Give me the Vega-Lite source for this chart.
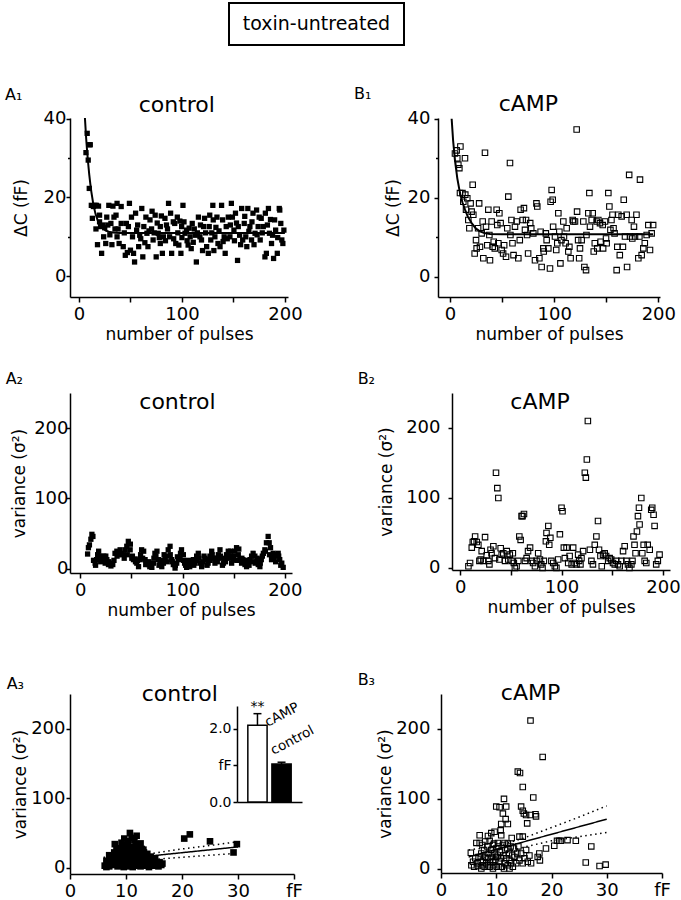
{
"$schema":"https://vega.github.io/schema/vega-lite/v6.json",
"background":"white",
"padding":{"left":5,"top":2,"right":0,"bottom":0},
"config":{
 "font":"DejaVu Sans",
 "view":{"stroke":null},
 "axis":{"domainColor":"black","domainWidth":1.5,"tickColor":"black","tickWidth":1.5,"labelColor":"black","titleColor":"black","grid":false,"labelFontSize":18,"titleFontSize":17,"titleFontWeight":"normal","labelOverlap":false,"labelFlush":false},
 "title":{"fontSize":16,"fontWeight":"normal","anchor":"start","frame":"bounds","color":"black","offset":4},
 "point":{"shape":"square","color":"black","opacity":1},
 "text":{"color":"black"}
},
"datasets":{
 "a1":[{"x":6.8,"y":31.4},{"x":8,"y":36.3},{"x":10,"y":33.4},{"x":11,"y":33.4},{"x":9,"y":29.5},{"x":10,"y":22.3},{"x":12,"y":18},{"x":13,"y":14.7},{"x":15.5,"y":18},{"x":17,"y":18},{"x":16.5,"y":12},{"x":18,"y":8},{"x":20,"y":13.8},{"x":22,"y":5.8},{"x":20,"y":15.5},{"x":23,"y":13},{"x":24,"y":10},{"x":26,"y":8.3},{"x":27,"y":15},{"x":29,"y":18},{"x":31,"y":13.4},{"x":33,"y":17.8},{"x":34,"y":15},{"x":35,"y":12},{"x":37,"y":18.5},{"x":37,"y":10},{"x":39,"y":8.3},{"x":41,"y":17.7},{"x":41,"y":13.4},{"x":43,"y":7.5},{"x":45,"y":5.3},{"x":46,"y":13.4},{"x":48,"y":12.6},{"x":49,"y":18.5},{"x":50,"y":6.6},{"x":51,"y":15},{"x":53,"y":5.8},{"x":54,"y":3.6},{"x":56,"y":11.7},{"x":58,"y":7.5},{"x":59,"y":10.4},{"x":61,"y":17.2},{"x":62,"y":4.9},{"x":63,"y":12.6},{"x":65,"y":15},{"x":66,"y":10.9},{"x":67,"y":7.5},{"x":69,"y":14.3},{"x":70.5,"y":12},{"x":72,"y":9.2},{"x":74,"y":15.5},{"x":75,"y":4.9},{"x":77,"y":10.9},{"x":79,"y":12.6},{"x":79,"y":8.3},{"x":81,"y":5.8},{"x":82,"y":10},{"x":83.5,"y":14.7},{"x":85,"y":13},{"x":87,"y":18.5},{"x":88,"y":10},{"x":90,"y":5.8},{"x":91.6,"y":13.8},{"x":93,"y":13.4},{"x":94,"y":8.3},{"x":95.5,"y":15},{"x":97,"y":7.9},{"x":99,"y":5.8},{"x":99.7,"y":12.6},{"x":101,"y":18},{"x":103,"y":10.9},{"x":104.5,"y":11.7},{"x":106,"y":7.9},{"x":108,"y":10},{"x":109,"y":7},{"x":110,"y":13.4},{"x":113,"y":10.4},{"x":114,"y":3.6},{"x":116,"y":15},{"x":117.5,"y":10},{"x":119,"y":9.2},{"x":121,"y":12.6},{"x":122,"y":14.7},{"x":124,"y":7.5},{"x":125.6,"y":5.8},{"x":126.5,"y":12.6},{"x":128,"y":9.2},{"x":130,"y":18},{"x":130.4,"y":14.3},{"x":132,"y":10},{"x":134,"y":15},{"x":135,"y":8.3},{"x":137,"y":7.5},{"x":138.5,"y":18},{"x":139.5,"y":14.3},{"x":141,"y":10},{"x":142,"y":5.8},{"x":143,"y":12.6},{"x":145,"y":15},{"x":146.6,"y":10},{"x":148,"y":18.5},{"x":149,"y":15},{"x":150.5,"y":11.7},{"x":152,"y":16},{"x":154,"y":4},{"x":154.7,"y":12.6},{"x":156,"y":10.4},{"x":158,"y":17.2},{"x":159,"y":9.2},{"x":160.5,"y":13.4},{"x":162,"y":10},{"x":163,"y":7.5},{"x":164,"y":17.2},{"x":166,"y":12.6},{"x":167.6,"y":9.2},{"x":169,"y":16},{"x":171,"y":10.9},{"x":172.5,"y":16.8},{"x":174,"y":12.6},{"x":176,"y":9.2},{"x":177,"y":14.7},{"x":179,"y":12.6},{"x":180.6,"y":4.9},{"x":182,"y":5.8},{"x":184,"y":17.2},{"x":185,"y":10.9},{"x":187,"y":8.3},{"x":189,"y":4.5},{"x":190,"y":14.3},{"x":191,"y":11.7},{"x":192.6,"y":5.8},{"x":194.5,"y":17.2},{"x":196,"y":13.4},{"x":197,"y":9.2},{"x":198,"y":8.3},{"x":199,"y":11.7},{"x":14,"y":17.7},{"x":19,"y":17.8},{"x":21,"y":12.6},{"x":25,"y":12.3},{"x":28,"y":13},{"x":30,"y":10.5},{"x":32,"y":8},{"x":36,"y":15.5},{"x":38,"y":12},{"x":44,"y":11},{"x":47,"y":6},{"x":52,"y":10},{"x":55,"y":16},{"x":57,"y":13},{"x":60,"y":9.5},{"x":64,"y":8.5},{"x":68,"y":11.5},{"x":71,"y":16.5},{"x":73,"y":11},{"x":76,"y":13.5},{"x":78,"y":9.8},{"x":80,"y":15.3},{"x":84,"y":9},{"x":86,"y":12},{"x":89,"y":16},{"x":92,"y":9.5},{"x":96,"y":11},{"x":98,"y":14},{"x":100,"y":9.8},{"x":102,"y":13.8},{"x":105,"y":9},{"x":107,"y":12.2},{"x":111,"y":8.6},{"x":112,"y":12},{"x":115,"y":11},{"x":118,"y":13},{"x":120,"y":6.5},{"x":123,"y":11},{"x":127,"y":15.5},{"x":129,"y":11},{"x":131,"y":6.5},{"x":133,"y":12.4},{"x":136,"y":11.5},{"x":140,"y":8.8},{"x":144,"y":9.5},{"x":147,"y":13},{"x":151,"y":9},{"x":153,"y":13.5},{"x":157,"y":8},{"x":161,"y":15.2},{"x":165,"y":11.4},{"x":168,"y":13.8},{"x":170,"y":8},{"x":173,"y":10.5},{"x":175,"y":15},{"x":178,"y":11},{"x":181,"y":16},{"x":183,"y":13},{"x":186,"y":14.4},{"x":188,"y":10.4},{"x":193,"y":9.8},{"x":195,"y":16.8}],
 "a1fit":[{"x":5.8,"y":40.2},{"x":7,"y":35},{"x":8,"y":31.5},{"x":9,"y":28.5},{"x":10,"y":25.8},{"x":11,"y":23.5},{"x":12,"y":21.5},{"x":14,"y":18.2},{"x":16,"y":15.9},{"x":18,"y":14.3},{"x":20,"y":13.2},{"x":23,"y":12.2},{"x":26,"y":11.6},{"x":30,"y":11.2},{"x":35,"y":11.05},{"x":40,"y":11},{"x":60,"y":11},{"x":100,"y":11},{"x":150,"y":11},{"x":200,"y":11}],
 "b1":[{"x":4.8,"y":31.2},{"x":6.4,"y":32},{"x":7,"y":30},{"x":8,"y":28.4},{"x":9,"y":27.5},{"x":10,"y":33},{"x":9.6,"y":21.2},{"x":12,"y":21.2},{"x":12.8,"y":19},{"x":14.4,"y":30},{"x":14.7,"y":20.8},{"x":15.4,"y":17},{"x":16.6,"y":19.9},{"x":17.6,"y":14.4},{"x":18.6,"y":12.3},{"x":19.8,"y":18.6},{"x":20.8,"y":16.5},{"x":21.8,"y":23.3},{"x":22.4,"y":15.7},{"x":23.7,"y":5.9},{"x":25,"y":9.3},{"x":25.6,"y":7.2},{"x":27,"y":12.3},{"x":28,"y":18.6},{"x":28.8,"y":7.6},{"x":30.4,"y":11},{"x":31.4,"y":14},{"x":32,"y":4.7},{"x":33.6,"y":31.4},{"x":34.6,"y":12.7},{"x":35.8,"y":8},{"x":36.8,"y":17},{"x":37.8,"y":10.6},{"x":38.4,"y":4.2},{"x":40,"y":14},{"x":41,"y":7.6},{"x":42,"y":8.9},{"x":43,"y":7.2},{"x":44.8,"y":17},{"x":45.4,"y":13.1},{"x":46.4,"y":8.5},{"x":47.4,"y":16.1},{"x":48.6,"y":13.6},{"x":49.6,"y":6.8},{"x":51,"y":5.9},{"x":52,"y":8},{"x":53.8,"y":5.1},{"x":55,"y":12.3},{"x":56,"y":20.3},{"x":57.6,"y":28.8},{"x":58,"y":10.6},{"x":59,"y":14.4},{"x":60,"y":8.5},{"x":61,"y":5.5},{"x":62.4,"y":12.7},{"x":64,"y":14},{"x":65.6,"y":4.7},{"x":67,"y":9.3},{"x":67.8,"y":17},{"x":69.8,"y":14.4},{"x":71,"y":17.4},{"x":72,"y":11.9},{"x":73,"y":14.4},{"x":74,"y":10.6},{"x":75,"y":5.9},{"x":77,"y":13.6},{"x":78,"y":12.3},{"x":80,"y":11},{"x":81.6,"y":4.2},{"x":83,"y":18.6},{"x":83.8,"y":17.8},{"x":85.8,"y":4.7},{"x":87,"y":11.4},{"x":88,"y":2.5},{"x":89.6,"y":7.2},{"x":90,"y":6.4},{"x":92,"y":11},{"x":92.8,"y":9.3},{"x":94.4,"y":7.2},{"x":96,"y":2.1},{"x":96.6,"y":19},{"x":97.6,"y":22},{"x":98.6,"y":19.5},{"x":99,"y":12.7},{"x":100.8,"y":10.2},{"x":102,"y":6.8},{"x":103,"y":8.5},{"x":104,"y":16.1},{"x":105,"y":11.4},{"x":106,"y":3.4},{"x":107,"y":9.3},{"x":108.8,"y":14},{"x":109.4,"y":10.2},{"x":111,"y":8.5},{"x":112,"y":12.3},{"x":113.6,"y":6.4},{"x":114.6,"y":7.6},{"x":115.8,"y":4.7},{"x":117.8,"y":14.4},{"x":118.4,"y":14},{"x":120,"y":14},{"x":121.6,"y":37.3},{"x":122,"y":16.5},{"x":123,"y":9.3},{"x":124,"y":4.7},{"x":124.8,"y":7.2},{"x":126.4,"y":9.3},{"x":128,"y":14},{"x":129,"y":2.5},{"x":130.6,"y":1.7},{"x":131,"y":10.6},{"x":132.8,"y":16.1},{"x":133.8,"y":21.2},{"x":134.4,"y":12.7},{"x":136,"y":14.4},{"x":137,"y":16.1},{"x":138,"y":6.4},{"x":139,"y":8.5},{"x":140.8,"y":14},{"x":141.4,"y":7.2},{"x":142.4,"y":14.4},{"x":144,"y":13.6},{"x":144.6,"y":8.9},{"x":146.6,"y":13.1},{"x":147,"y":7.2},{"x":148.8,"y":14},{"x":149.8,"y":9.7},{"x":150.4,"y":8.5},{"x":152,"y":21.2},{"x":153,"y":17.8},{"x":154,"y":11.9},{"x":155,"y":14.4},{"x":156,"y":15.7},{"x":157,"y":12.3},{"x":158,"y":11},{"x":160,"y":1.7},{"x":160.6,"y":7.6},{"x":161.6,"y":15.7},{"x":163,"y":5.5},{"x":164.8,"y":15.3},{"x":166,"y":7.6},{"x":166.8,"y":19.5},{"x":168,"y":10.2},{"x":169.6,"y":15.7},{"x":170,"y":2.5},{"x":172,"y":25.8},{"x":172.8,"y":10.2},{"x":174.4,"y":14.4},{"x":175,"y":9.7},{"x":176.6,"y":12.7},{"x":177.6,"y":10.2},{"x":179,"y":15.7},{"x":180.8,"y":4.7},{"x":181.8,"y":10.2},{"x":182.4,"y":24.6},{"x":184,"y":5.5},{"x":185.6,"y":7.2},{"x":187,"y":8.5},{"x":188.8,"y":10.6},{"x":190.4,"y":13.1},{"x":192,"y":6.8},{"x":193.6,"y":11},{"x":195,"y":13.1}],
 "b1fit":[{"x":1.6,"y":40},{"x":3,"y":34.5},{"x":4.8,"y":29.5},{"x":7,"y":25},{"x":9.6,"y":21.2},{"x":12,"y":18.8},{"x":14.4,"y":17},{"x":17,"y":15.3},{"x":20.8,"y":13.6},{"x":25,"y":12.2},{"x":28.8,"y":11.5},{"x":33,"y":11.1},{"x":38.4,"y":10.85},{"x":50,"y":10.8},{"x":100,"y":10.8},{"x":195,"y":10.8}],
 "a2":[{"x":7.2,"y":21},{"x":9,"y":34},{"x":10.4,"y":42},{"x":11.4,"y":49},{"x":12.4,"y":46},{"x":14.6,"y":8},{"x":16,"y":13},{"x":18,"y":25},{"x":19.5,"y":18},{"x":21,"y":13},{"x":23,"y":18},{"x":24.4,"y":8},{"x":26,"y":13},{"x":27.6,"y":6},{"x":29,"y":8},{"x":31.8,"y":6},{"x":34,"y":22},{"x":35.8,"y":25},{"x":37.4,"y":20},{"x":39,"y":27},{"x":40.6,"y":22},{"x":42,"y":20},{"x":44,"y":27},{"x":45.5,"y":32},{"x":47,"y":39},{"x":48.8,"y":27},{"x":50.4,"y":15},{"x":52,"y":13},{"x":53.7,"y":14},{"x":55.3,"y":8},{"x":57,"y":3},{"x":58.5,"y":13},{"x":60,"y":27},{"x":62,"y":25},{"x":63.4,"y":13},{"x":65,"y":8},{"x":66.7,"y":6},{"x":68,"y":3},{"x":70,"y":2},{"x":71.5,"y":8},{"x":73,"y":22},{"x":75,"y":25},{"x":76.4,"y":13},{"x":78,"y":8},{"x":79.7,"y":3},{"x":81.3,"y":8},{"x":83,"y":15},{"x":84.5,"y":18},{"x":86,"y":27},{"x":87.8,"y":32},{"x":89.4,"y":13},{"x":91,"y":6},{"x":92.7,"y":1},{"x":94.3,"y":8},{"x":96,"y":13},{"x":97.6,"y":15},{"x":99,"y":27},{"x":100.8,"y":20},{"x":102,"y":8},{"x":104,"y":2},{"x":105.7,"y":6},{"x":107,"y":3},{"x":109,"y":10},{"x":110.6,"y":13},{"x":112,"y":8},{"x":113.8,"y":18},{"x":115.4,"y":22},{"x":117,"y":8},{"x":118.7,"y":3},{"x":120,"y":10},{"x":122,"y":15},{"x":123.6,"y":13},{"x":125,"y":8},{"x":126.8,"y":18},{"x":128.5,"y":25},{"x":130,"y":15},{"x":131.7,"y":8},{"x":133,"y":13},{"x":135,"y":20},{"x":136.6,"y":27},{"x":138,"y":15},{"x":140,"y":8},{"x":141.5,"y":13},{"x":143,"y":20},{"x":144.7,"y":25},{"x":146,"y":18},{"x":148,"y":8},{"x":149.6,"y":13},{"x":151,"y":25},{"x":152.8,"y":30},{"x":154.5,"y":20},{"x":156,"y":13},{"x":157.7,"y":8},{"x":159,"y":13},{"x":161,"y":6},{"x":162.6,"y":3},{"x":164,"y":8},{"x":166,"y":13},{"x":167.5,"y":18},{"x":169,"y":22},{"x":170.7,"y":18},{"x":172,"y":10},{"x":174,"y":6},{"x":175.6,"y":3},{"x":177,"y":13},{"x":179,"y":22},{"x":180.5,"y":27},{"x":182,"y":37},{"x":183.7,"y":46},{"x":184.7,"y":37},{"x":186,"y":30},{"x":187,"y":13},{"x":188.6,"y":22},{"x":190,"y":18},{"x":192,"y":20},{"x":193.5,"y":22},{"x":195,"y":13},{"x":197,"y":8},{"x":198.4,"y":2},{"x":8,"y":30},{"x":13,"y":12},{"x":15,"y":5},{"x":17,"y":20},{"x":20,"y":10},{"x":22,"y":15},{"x":25,"y":18},{"x":28,"y":10},{"x":30,"y":4},{"x":33,"y":12},{"x":36,"y":18},{"x":38,"y":23},{"x":43,"y":15},{"x":46,"y":20},{"x":49,"y":35},{"x":51,"y":18},{"x":54,"y":10},{"x":56,"y":12},{"x":59,"y":20},{"x":61,"y":15},{"x":64,"y":6},{"x":67,"y":10},{"x":69,"y":5},{"x":72,"y":15},{"x":74,"y":18},{"x":77,"y":5},{"x":80,"y":12},{"x":82,"y":20},{"x":85,"y":10},{"x":88,"y":20},{"x":90,"y":10},{"x":93,"y":5},{"x":95,"y":17},{"x":98,"y":22},{"x":101,"y":12},{"x":103,"y":5},{"x":106,"y":12},{"x":108,"y":8},{"x":111,"y":5},{"x":114,"y":12},{"x":116,"y":15},{"x":119,"y":6},{"x":121,"y":18},{"x":124,"y":5},{"x":127,"y":12},{"x":129,"y":20},{"x":132,"y":15},{"x":134,"y":10},{"x":137,"y":18},{"x":139,"y":5},{"x":142,"y":10},{"x":145,"y":15},{"x":147,"y":25},{"x":150,"y":18},{"x":153,"y":12},{"x":155,"y":28},{"x":158,"y":15},{"x":160,"y":10},{"x":163,"y":12},{"x":165,"y":5},{"x":168,"y":10},{"x":171,"y":8},{"x":173,"y":15},{"x":176,"y":8},{"x":178,"y":18},{"x":181,"y":25},{"x":185,"y":20},{"x":189,"y":15},{"x":191,"y":10},{"x":194,"y":18},{"x":196,"y":5}],
 "b2":[{"x":8.2,"y":2.4},{"x":9.8,"y":7},{"x":11.5,"y":29},{"x":12.5,"y":37},{"x":13.8,"y":38},{"x":14.8,"y":45},{"x":16.4,"y":37},{"x":18,"y":33},{"x":19,"y":10},{"x":20.3,"y":12},{"x":21.3,"y":24},{"x":23,"y":10},{"x":24.6,"y":44},{"x":26.2,"y":18},{"x":27.9,"y":10},{"x":28.9,"y":5},{"x":30,"y":26},{"x":31,"y":21},{"x":32.8,"y":31},{"x":34.4,"y":14},{"x":35.4,"y":136},{"x":36.7,"y":114},{"x":37.7,"y":100},{"x":38.7,"y":12},{"x":40,"y":28},{"x":41,"y":19},{"x":42.6,"y":21},{"x":44.3,"y":10},{"x":46,"y":24},{"x":47.5,"y":12},{"x":49,"y":19},{"x":50.8,"y":10},{"x":52,"y":21},{"x":53,"y":7},{"x":54,"y":0},{"x":55.7,"y":2.4},{"x":57.4,"y":10},{"x":58.4,"y":45},{"x":59.7,"y":40},{"x":60.6,"y":74},{"x":61.6,"y":74},{"x":63,"y":77},{"x":64,"y":10},{"x":65.6,"y":14},{"x":67,"y":24},{"x":69,"y":29},{"x":70.5,"y":10},{"x":72,"y":7},{"x":73.8,"y":2.4},{"x":75.4,"y":10},{"x":77,"y":21},{"x":78.7,"y":12},{"x":80,"y":5},{"x":81.3,"y":0},{"x":82.6,"y":10},{"x":84.6,"y":38},{"x":85.2,"y":50},{"x":87,"y":60},{"x":87.9,"y":33},{"x":89,"y":43},{"x":90,"y":10},{"x":91.8,"y":7},{"x":93.4,"y":2.4},{"x":95,"y":0},{"x":96.7,"y":12},{"x":98.4,"y":48},{"x":100,"y":86},{"x":101,"y":81},{"x":102.3,"y":29},{"x":103.3,"y":14},{"x":105,"y":29},{"x":106.6,"y":7},{"x":108,"y":17},{"x":110,"y":5},{"x":111.5,"y":29},{"x":113,"y":7},{"x":114.8,"y":5},{"x":116.4,"y":19},{"x":117.4,"y":10},{"x":118.7,"y":5},{"x":119.7,"y":14},{"x":121.3,"y":24},{"x":123,"y":136},{"x":124,"y":129},{"x":125,"y":155},{"x":126,"y":210},{"x":128,"y":26},{"x":129.5,"y":10},{"x":131,"y":5},{"x":132.8,"y":33},{"x":134.4,"y":45},{"x":136,"y":67},{"x":137,"y":26},{"x":138.4,"y":17},{"x":139.7,"y":2.4},{"x":141,"y":19},{"x":142.6,"y":21},{"x":144,"y":17},{"x":146,"y":10},{"x":147.5,"y":14},{"x":149,"y":12},{"x":150.8,"y":7},{"x":152.5,"y":5},{"x":154,"y":10},{"x":155.7,"y":5},{"x":157.4,"y":2.4},{"x":159,"y":10},{"x":160.7,"y":24},{"x":162.3,"y":31},{"x":164,"y":10},{"x":165.6,"y":5},{"x":167,"y":0},{"x":168.9,"y":5},{"x":170,"y":10},{"x":171,"y":45},{"x":172,"y":33},{"x":173,"y":21},{"x":174.4,"y":52},{"x":175.4,"y":74},{"x":176.4,"y":86},{"x":177,"y":62},{"x":178.7,"y":100},{"x":179.7,"y":21},{"x":181,"y":33},{"x":182,"y":10},{"x":183.6,"y":7},{"x":185,"y":33},{"x":187,"y":26},{"x":188.5,"y":83},{"x":189.5,"y":86},{"x":190.8,"y":76},{"x":191.8,"y":60},{"x":193.4,"y":5},{"x":195,"y":10},{"x":196.7,"y":19}],
 "a3":[{"x":6.2,"y":3},{"x":6.5,"y":1},{"x":6.8,"y":6},{"x":7,"y":2},{"x":7.2,"y":12},{"x":7.4,"y":8},{"x":7.5,"y":4},{"x":7.7,"y":15},{"x":7.9,"y":10},{"x":8,"y":34},{"x":8.1,"y":5},{"x":8.2,"y":20},{"x":8.4,"y":14},{"x":8.5,"y":2},{"x":8.6,"y":25},{"x":8.7,"y":9},{"x":8.8,"y":18},{"x":9,"y":28},{"x":9,"y":3},{"x":9.1,"y":12},{"x":9.2,"y":22},{"x":9.3,"y":7},{"x":9.4,"y":16},{"x":9.5,"y":30},{"x":9.6,"y":1},{"x":9.7,"y":10},{"x":9.8,"y":24},{"x":9.9,"y":5},{"x":10,"y":19},{"x":10,"y":14},{"x":10.1,"y":27},{"x":10.2,"y":8},{"x":10.3,"y":2},{"x":10.4,"y":38},{"x":10.4,"y":21},{"x":10.5,"y":12},{"x":10.6,"y":17},{"x":10.7,"y":50},{"x":10.7,"y":4},{"x":10.8,"y":25},{"x":10.9,"y":9},{"x":11,"y":43},{"x":11,"y":15},{"x":11.1,"y":30},{"x":11.2,"y":1},{"x":11.3,"y":20},{"x":11.4,"y":11},{"x":11.5,"y":26},{"x":11.6,"y":6},{"x":11.7,"y":34},{"x":11.8,"y":16},{"x":11.9,"y":22},{"x":12,"y":3},{"x":12,"y":29},{"x":12.1,"y":12},{"x":12.2,"y":18},{"x":12.3,"y":8},{"x":12.4,"y":24},{"x":12.5,"y":14},{"x":12.6,"y":2},{"x":12.7,"y":20},{"x":12.8,"y":27},{"x":12.9,"y":10},{"x":13,"y":16},{"x":13.1,"y":5},{"x":13.2,"y":22},{"x":13.3,"y":12},{"x":13.4,"y":18},{"x":13.5,"y":3},{"x":13.6,"y":9},{"x":13.7,"y":14},{"x":13.8,"y":20},{"x":14,"y":7},{"x":14.1,"y":1},{"x":14.2,"y":11},{"x":14.4,"y":16},{"x":14.5,"y":5},{"x":14.7,"y":9},{"x":15,"y":3},{"x":15.2,"y":13},{"x":15.5,"y":6},{"x":15.8,"y":2},{"x":16,"y":8},{"x":16.3,"y":4},{"x":16.5,"y":6},{"x":7.9,"y":22},{"x":8.3,"y":28},{"x":9.2,"y":36},{"x":10.1,"y":33},{"x":11.5,"y":40},{"x":12.3,"y":31},{"x":13.1,"y":26},{"x":6.5,"y":10},{"x":7,"y":18},{"x":12.6,"y":35},{"x":9.7,"y":42},{"x":11.9,"y":46},{"x":20.4,"y":42},{"x":21.4,"y":48},{"x":25,"y":38},{"x":29.2,"y":22},{"x":29.8,"y":34}],
 "a3fit":[{"k":"fit","x":6,"y":10},{"k":"fit","x":30,"y":30},{"k":"hi","x":6,"y":15},{"k":"hi","x":10,"y":16},{"k":"hi","x":15,"y":21},{"k":"hi","x":20,"y":27},{"k":"hi","x":25,"y":32},{"k":"hi","x":30,"y":37.5},{"k":"lo","x":6,"y":5},{"k":"lo","x":10,"y":8},{"k":"lo","x":15,"y":12},{"k":"lo","x":20,"y":15},{"k":"lo","x":25,"y":18},{"k":"lo","x":30,"y":21}],
 "b3":[{"x":16.2,"y":212},{"x":18.4,"y":160},{"x":13.9,"y":139},{"x":14.3,"y":137},{"x":14.8,"y":117},{"x":11.4,"y":100},{"x":16.7,"y":102},{"x":10,"y":89},{"x":10.6,"y":88},{"x":11.8,"y":89},{"x":14.5,"y":89},{"x":14.8,"y":83},{"x":15,"y":79},{"x":15.4,"y":77},{"x":16.2,"y":77},{"x":17.1,"y":78},{"x":17.2,"y":75},{"x":11.2,"y":79},{"x":11.7,"y":71},{"x":10.9,"y":64},{"x":12.1,"y":64},{"x":15.6,"y":65},{"x":7,"y":48},{"x":8.5,"y":47},{"x":9.1,"y":51},{"x":9.7,"y":53},{"x":10.8,"y":55},{"x":10.9,"y":48},{"x":12.8,"y":44},{"x":14.2,"y":46},{"x":14.8,"y":46},{"x":20.5,"y":33},{"x":21,"y":40},{"x":21.4,"y":40},{"x":21.7,"y":40},{"x":22.9,"y":41},{"x":24.4,"y":40},{"x":27.2,"y":32},{"x":26.2,"y":9},{"x":28.7,"y":4},{"x":29.8,"y":6},{"x":19,"y":29},{"x":17.8,"y":22},{"x":17.9,"y":12},{"x":17.5,"y":17},{"x":5.4,"y":23},{"x":5.5,"y":5},{"x":5.8,"y":10},{"x":6,"y":3},{"x":6.2,"y":15},{"x":6.4,"y":37},{"x":6.6,"y":8},{"x":6.7,"y":4},{"x":6.8,"y":17},{"x":7,"y":37},{"x":7.2,"y":10},{"x":7.3,"y":22},{"x":7.5,"y":5},{"x":7.6,"y":12},{"x":7.8,"y":27},{"x":7.9,"y":3},{"x":8,"y":17},{"x":8.2,"y":8},{"x":8.4,"y":32},{"x":8.5,"y":15},{"x":8.6,"y":22},{"x":8.8,"y":3},{"x":8.9,"y":10},{"x":9.1,"y":27},{"x":9.2,"y":17},{"x":9.4,"y":34},{"x":9.5,"y":5},{"x":9.7,"y":22},{"x":9.8,"y":12},{"x":10,"y":29},{"x":10.1,"y":3},{"x":10.3,"y":19},{"x":10.4,"y":32},{"x":10.6,"y":10},{"x":10.7,"y":24},{"x":10.9,"y":15},{"x":11,"y":3},{"x":11.2,"y":34},{"x":11.3,"y":19},{"x":11.5,"y":8},{"x":11.6,"y":27},{"x":11.8,"y":15},{"x":12,"y":29},{"x":12.1,"y":5},{"x":12.3,"y":22},{"x":12.4,"y":12},{"x":12.6,"y":32},{"x":12.7,"y":8},{"x":12.9,"y":19},{"x":13,"y":3},{"x":13.2,"y":29},{"x":13.3,"y":17},{"x":13.6,"y":8},{"x":13.8,"y":22},{"x":14,"y":32},{"x":14.2,"y":12},{"x":14.5,"y":22},{"x":14.8,"y":8},{"x":15.1,"y":15},{"x":15.4,"y":27},{"x":15.7,"y":10},{"x":16,"y":19},{"x":16.3,"y":8},{"x":7.5,"y":34},{"x":8,"y":39},{"x":8.8,"y":40},{"x":9.6,"y":36},{"x":10.3,"y":37},{"x":11.5,"y":37},{"x":12.1,"y":36},{"x":10,"y":17},{"x":9.4,"y":10},{"x":8.5,"y":5},{"x":10.8,"y":3},{"x":11.4,"y":0.5},{"x":12.4,"y":0.5},{"x":9.4,"y":0.5},{"x":7.3,"y":0.5}],
 "b3fit":[{"k":"fit","x":5,"y":17},{"k":"fit","x":30,"y":71},{"k":"hi","x":5,"y":27},{"k":"hi","x":10,"y":32},{"k":"hi","x":15,"y":44},{"k":"hi","x":20,"y":59},{"k":"hi","x":25,"y":74},{"k":"hi","x":30,"y":90},{"k":"lo","x":5,"y":8},{"k":"lo","x":10,"y":20},{"k":"lo","x":15,"y":31},{"k":"lo","x":20,"y":40},{"k":"lo","x":25,"y":46},{"k":"lo","x":30,"y":52}],
 "inset":[{"cond":"cAMP","v":2.1,"hi":2.42,"star":"**"},{"cond":"control","v":1.04,"hi":1.09,"star":""}]
},
"spacing":39,
"vconcat":[
 {"hconcat":[
   {"width":1,"height":42,"data":{"values":[{}]},"mark":{"type":"text","text":""}},
   {"width":175,"height":42,"view":{"stroke":"black","strokeWidth":2},"data":{"values":[{"t":"toxin-untreated"}]},"mark":{"type":"text","fontSize":19,"baseline":"middle"},"encoding":{"text":{"field":"t","type":"nominal"}}}
 ],"spacing":158,"bounds":"flush"},
 {"vconcat":[
  {"vconcat":[
   {"hconcat":[
    {"width":218,"height":179,"title":{"text":"A₁","dx":-7,"dy":13},
     "layer":[
      {"data":{"name":"a1"},"mark":{"type":"point","filled":true,"size":28},
       "encoding":{
        "x":{"field":"x","type":"quantitative","scale":{"domain":[-8.7,203],"nice":false,"zero":false},"axis":{"values":[0,25,50,75,100,125,150,175,200],"labelExpr":"datum.value % 100 === 0 ? datum.label : ''","tickSize":{"condition":{"test":"datum.value % 50 === 0","value":5},"value":3},"title":"number of pulses","labelPadding":3,"titlePadding":3}},
        "y":{"field":"y","type":"quantitative","scale":{"domain":[-5.3,40.2],"nice":false,"zero":false},"axis":{"values":[0,5,10,15,20,25,30,35,40],"labelExpr":"datum.value % 20 === 0 ? datum.label : ''","tickSize":{"condition":{"test":"datum.value % 20 === 0","value":4},"value":2.5},"title":"ΔC (fF)","labelPadding":0,"titlePadding":13}}}},
      {"data":{"name":"a1fit"},"mark":{"type":"line","color":"black","strokeWidth":2},"encoding":{"x":{"field":"x","type":"quantitative"},"y":{"field":"y","type":"quantitative"}}},
      {"data":{"values":[{}]},"mark":{"type":"text","text":"control","fontSize":22,"baseline":"alphabetic"},"encoding":{"x":{"datum":95,"type":"quantitative"},"y":{"datum":41.8,"type":"quantitative"}}}
     ]},
    {"width":222,"height":179,"title":{"text":"B₁","dx":-30,"dy":13},
     "layer":[
      {"data":{"name":"b1"},"mark":{"type":"point","filled":false,"size":30,"strokeWidth":1.1},
       "encoding":{
        "x":{"field":"x","type":"quantitative","scale":{"domain":[-11.5,201.6],"nice":false,"zero":false},"axis":{"values":[0,25,50,75,100,125,150,175,200],"labelExpr":"datum.value % 100 === 0 ? datum.label : ''","tickSize":{"condition":{"test":"datum.value % 50 === 0","value":5},"value":3},"title":"number of pulses","labelPadding":3,"titlePadding":3}},
        "y":{"field":"y","type":"quantitative","scale":{"domain":[-5.1,40.2],"nice":false,"zero":false},"axis":{"values":[0,5,10,15,20,25,30,35,40],"labelExpr":"datum.value % 20 === 0 ? datum.label : ''","tickSize":{"condition":{"test":"datum.value % 20 === 0","value":4},"value":2.5},"title":"ΔC (fF)","labelPadding":4,"titlePadding":5}}}},
      {"data":{"name":"b1fit"},"mark":{"type":"line","color":"black","strokeWidth":2},"encoding":{"x":{"field":"x","type":"quantitative"},"y":{"field":"y","type":"quantitative"}}},
      {"data":{"values":[{}]},"mark":{"type":"text","text":"cAMP","fontSize":22,"baseline":"alphabetic"},"encoding":{"x":{"datum":75.3,"type":"quantitative"},"y":{"datum":42,"type":"quantitative"}}}
     ]}
   ],"spacing":150,"bounds":"flush"},
   {"hconcat":[
    {"width":222,"height":180,"title":{"text":"A₂","dx":-5},
     "layer":[
      {"data":{"name":"a2"},"mark":{"type":"point","filled":true,"size":28},
       "encoding":{
        "x":{"field":"x","type":"quantitative","scale":{"domain":[-10,207],"nice":false,"zero":false},"axis":{"values":[0,25,50,75,100,125,150,175,200],"labelExpr":"datum.value % 100 === 0 ? datum.label : ''","tickSize":{"condition":{"test":"datum.value % 50 === 0","value":5},"value":3},"title":"number of pulses","labelPadding":3,"titlePadding":3}},
        "y":{"field":"y","type":"quantitative","scale":{"domain":[-6,250],"nice":false,"zero":false},"axis":{"values":[0,25,50,75,100,125,150,175,200,225,250],"labelExpr":"datum.value % 100 === 0 ? datum.label : ''","tickSize":{"condition":{"test":"datum.value % 100 === 0","value":4},"value":2.5},"title":"variance (σ²)","labelPadding":-2,"titlePadding":5}}}},
      {"data":{"values":[{}]},"mark":{"type":"text","text":"control","fontSize":22,"baseline":"alphabetic"},"encoding":{"x":{"datum":95,"type":"quantitative"},"y":{"datum":227,"type":"quantitative"}}}
     ]},
    {"width":218,"height":177,"title":{"text":"B₂","dx":-20},
     "layer":[
      {"data":{"name":"b2"},"mark":{"type":"point","filled":false,"size":30,"strokeWidth":1.1},
       "encoding":{
        "x":{"field":"x","type":"quantitative","scale":{"domain":[-8,207],"nice":false,"zero":false},"axis":{"values":[0,25,50,75,100,125,150,175,200],"labelExpr":"datum.value % 100 === 0 ? datum.label : ''","tickSize":{"condition":{"test":"datum.value % 50 === 0","value":5},"value":3},"title":"number of pulses","labelPadding":3,"titlePadding":3}},
        "y":{"field":"y","type":"quantitative","scale":{"domain":[-3,250],"nice":false,"zero":false},"axis":{"values":[0,25,50,75,100,125,150,175,200,225,250],"labelExpr":"datum.value % 100 === 0 ? datum.label : ''","tickSize":{"condition":{"test":"datum.value % 100 === 0","value":4},"value":2.5},"title":"variance (σ²)","labelPadding":8,"titlePadding":10}}}},
      {"data":{"values":[{}]},"mark":{"type":"text","text":"cAMP","fontSize":22,"baseline":"alphabetic"},"encoding":{"x":{"datum":78.8,"type":"quantitative"},"y":{"datum":227,"type":"quantitative"}}}
     ]}
   ],"spacing":160,"bounds":"flush"}
  ],"spacing":29},
  {"hconcat":[
   {"width":224,"height":180,"title":{"text":"A₃","dx":-5,"dy":13},
    "resolve":{"scale":{"x":"independent","y":"independent"},"axis":{"x":"independent","y":"independent"}},
    "layer":[
     {"layer":[
      {"data":{"name":"a3fit"},"mark":{"type":"line","color":"black","strokeWidth":1.5},
       "encoding":{
        "x":{"field":"x","type":"quantitative","scale":{"domain":[0,40],"nice":false,"zero":false},"axis":{"values":[0,5,10,15,20,25,30,35,40],"labelExpr":"datum.value === 40 ? 'fF' : (datum.value % 10 === 0 ? datum.label : '')","tickSize":{"condition":{"test":"datum.value % 10 === 0","value":5},"value":3},"title":null,"labelPadding":3}},
        "y":{"field":"y","type":"quantitative","scale":{"domain":[-9,250],"nice":false,"zero":false},"axis":{"orient":"left","values":[0,25,50,75,100,125,150,175,200,225,250],"labelExpr":"datum.value % 100 === 0 ? datum.label : ''","tickSize":{"condition":{"test":"datum.value % 100 === 0","value":4},"value":2.5},"title":"variance (σ²)","labelPadding":1,"titlePadding":1}},
        "strokeDash":{"field":"k","type":"nominal","scale":{"domain":["fit","hi","lo"],"range":[[1,0],[1.5,3.5],[1.5,3.5]]},"legend":null}}},
      {"data":{"name":"a3"},"mark":{"type":"point","filled":true,"size":44},"encoding":{"x":{"field":"x","type":"quantitative"},"y":{"field":"y","type":"quantitative"}}},
      {"data":{"values":[{}]},"mark":{"type":"text","text":"control","fontSize":22,"baseline":"alphabetic"},"encoding":{"x":{"datum":19.6,"type":"quantitative"},"y":{"datum":240,"type":"quantitative"}}}
     ]},
     {"data":{"name":"inset"},
      "layer":[
       {"mark":{"type":"bar","stroke":"black","strokeWidth":1.5},
        "encoding":{
         "x":{"field":"cond","type":"nominal","sort":null,"scale":{"type":"band","range":[167,232],"paddingInner":0.2,"paddingOuter":0.45},"axis":{"orient":"bottom","offset":-72,"labels":false,"ticks":false,"title":null}},
         "y":{"field":"v","type":"quantitative","scale":{"domain":[0,2.63],"range":[108,12],"nice":false,"zero":true},"axis":{"orient":"left","offset":-167,"values":[0,0.5,1,1.5,2,2.5],"labelExpr":"datum.value === 1 ? 'fF' : ((datum.value === 0 || datum.value === 2) ? format(datum.value, '.1f') : '')","tickSize":4,"labelPadding":2,"labelFontSize":14,"title":null}},
         "fill":{"field":"cond","type":"nominal","scale":{"domain":["cAMP","control"],"range":["white","black"]},"legend":null}}},
       {"mark":{"type":"rule","strokeWidth":1.5,"color":"black"},"encoding":{"x":{"field":"cond","type":"nominal","sort":null},"y":{"field":"v","type":"quantitative"},"y2":{"field":"hi"}}},
       {"mark":{"type":"tick","thickness":1.5,"size":8,"color":"black","opacity":1},"encoding":{"x":{"field":"cond","type":"nominal","sort":null},"y":{"field":"hi","type":"quantitative"}}},
       {"mark":{"type":"text","fontSize":14,"dy":-3,"baseline":"alphabetic"},"encoding":{"x":{"field":"cond","type":"nominal","sort":null},"y":{"field":"hi","type":"quantitative"},"text":{"field":"star","type":"nominal"}}},
       {"transform":[{"filter":"datum.cond === 'cAMP'"}],"mark":{"type":"text","fontSize":13.5,"angle":332,"align":"left","baseline":"alphabetic","dx":8.3,"dy":6.3},"encoding":{"x":{"field":"cond","type":"nominal","sort":null},"y":{"field":"v","type":"quantitative"},"text":{"field":"cond","type":"nominal"}}},
       {"transform":[{"filter":"datum.cond === 'control'"}],"mark":{"type":"text","fontSize":13.5,"angle":332,"align":"left","baseline":"alphabetic","dx":-2.8,"dy":-11.7},"encoding":{"x":{"field":"cond","type":"nominal","sort":null},"y":{"field":"v","type":"quantitative"},"text":{"field":"cond","type":"nominal"}}}
      ]}
    ]},
   {"width":221,"height":179,"title":{"text":"B₃","dx":-19,"dy":10},
    "layer":[
     {"data":{"name":"b3fit"},"mark":{"type":"line","color":"black","strokeWidth":1.5},
      "encoding":{
       "x":{"field":"x","type":"quantitative","scale":{"domain":[0,40],"nice":false,"zero":false},"axis":{"values":[0,5,10,15,20,25,30,35,40],"labelExpr":"datum.value === 40 ? 'fF' : (datum.value % 10 === 0 ? datum.label : '')","tickSize":{"condition":{"test":"datum.value % 10 === 0","value":5},"value":3},"title":null,"labelPadding":3}},
       "y":{"field":"y","type":"quantitative","scale":{"domain":[-6,250],"nice":false,"zero":false},"axis":{"values":[0,25,50,75,100,125,150,175,200,225,250],"labelExpr":"datum.value % 100 === 0 ? datum.label : ''","tickSize":{"condition":{"test":"datum.value % 100 === 0","value":4},"value":2.5},"title":"variance (σ²)","labelPadding":7,"titlePadding":1}},
       "strokeDash":{"field":"k","type":"nominal","scale":{"domain":["fit","hi","lo"],"range":[[1,0],[1.5,3.5],[1.5,3.5]]},"legend":null}}},
     {"data":{"name":"b3"},"mark":{"type":"point","filled":false,"size":30,"strokeWidth":1.1},"encoding":{"x":{"field":"x","type":"quantitative"},"y":{"field":"y","type":"quantitative"}}},
     {"data":{"values":[{}]},"mark":{"type":"text","text":"cAMP","fontSize":22,"baseline":"alphabetic"},"encoding":{"x":{"datum":16.2,"type":"quantitative"},"y":{"datum":241,"type":"quantitative"}}}
    ]}
  ],"spacing":147,"bounds":"flush"}
 ],"spacing":54}
]
}
